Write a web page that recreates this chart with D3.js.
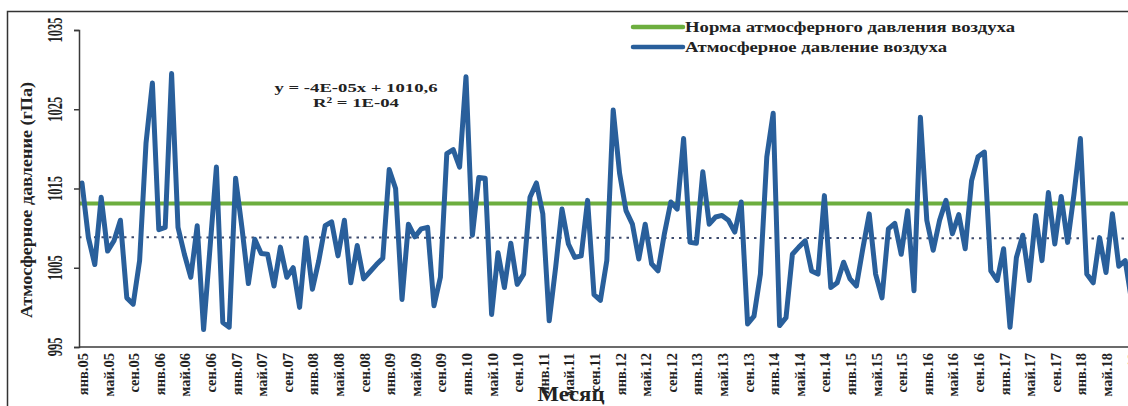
<!DOCTYPE html>
<html><head><meta charset="utf-8">
<script src="https://cdn.jsdelivr.net/npm/d3@7"></script>
<style>body{margin:0;background:#fff}svg{display:block}</style>
</head><body><svg id="c" width="1128" height="406"></svg>
<script>
// Monthly atmospheric pressure, hPa, Jan 2005 onward
const pressure = [
1015.7,1008.8,1005.4,1013.9,1007.1,1008.4,1011.0,1001.2,1000.4,1005.9,1020.7,1028.3,
1009.8,1010.1,1029.5,1010.1,1006.7,1003.8,1010.3,997.2,1007.5,1017.7,998.1,997.5,
1016.3,1010.0,1003.0,1008.6,1006.8,1006.7,1002.7,1007.6,1003.8,1005.0,1000.0,1008.8,
1002.3,1005.9,1010.3,1010.8,1006.5,1011.0,1003.1,1007.8,1003.6,1004.5,1005.4,1006.2,
1017.4,1015.0,1001.0,1010.5,1008.9,1009.9,1010.1,1000.2,1003.8,1019.4,1019.9,1017.7,
1029.1,1009.1,1016.4,1016.3,999.1,1006.9,1002.5,1008.1,1002.9,1004.2,1013.9,1015.7,
1011.8,998.3,1005.0,1012.4,1008.0,1006.3,1006.5,1013.5,1001.6,1000.9,1005.9,1024.9,
1016.9,1012.2,1010.5,1006.1,1010.5,1005.5,1004.6,1009.3,1013.3,1012.4,1021.3,1008.2,
1008.1,1017.1,1010.5,1011.4,1011.6,1011.0,1009.5,1013.3,997.9,998.9,1004.2,1019.0,
1024.5,997.7,998.7,1006.7,1007.6,1008.4,1004.6,1004.2,1014.1,1002.5,1003.1,1005.7,
1003.6,1002.7,1007.4,1011.8,1004.2,1001.2,1009.9,1010.6,1006.7,1012.2,1002.1,1024.0,
1011.0,1007.2,1011.0,1013.5,1009.3,1011.7,1007.4,1016.0,1019.0,1019.6,1004.6,1003.4,
1007.4,997.5,1006.3,1009.1,1003.4,1011.6,1005.9,1014.5,1008.0,1014.0,1008.2,1014.3,
1021.3,1004.2,1003.1,1008.8,1004.4,1011.8,1005.2,1005.9,1000.8
];
const tickLabels = [
"янв.05","май.05","сен.05","янв.06","май.06","сен.06","янв.07","май.07","сен.07",
"янв.08","май.08","сен.08","янв.09","май.09","сен.09","янв.10","май.10","сен.10",
"янв.11","май.11","сен.11","янв.12","май.12","сен.12","янв.13","май.13","сен.13",
"янв.14","май.14","сен.14","янв.15","май.15","сен.15","янв.16","май.16","сен.16",
"янв.17","май.17","сен.17","янв.18","май.18","сен.18"
];
const tickStep = 4;
const normValue = 1013.1;
const trendValues = [1008.85, 1008.7];
const yTicks = [995, 1005, 1015, 1025, 1035];
const legendLabels = ["Норма атмосферного давления воздуха", "Атмосферное давление воздуха"];
const equationLines = ["y = -4E-05x + 1010,6", "R² = 1E-04"];
const yTitle = "Атмосферное давление (гПа)";
const xTitle = "Месяц";

const BLUE = "#295f9b", GREEN = "#6dae3f", TREND = "#3d4b6e", AXIS = "#3a3a3a";
const FONT = "'Liberation Serif','Times New Roman',serif";

const svg = d3.select("#c");
const x = d3.scaleLinear().domain([0, 163]).range([82, 82 + 6.4 * 163]);
const y = d3.scaleLinear().domain([995, 1035]).range([347, 30]);
const W = 1128;

// frame
svg.append("rect").attr("x", 7.5).attr("y", 11.5).attr("width", 1300).attr("height", 600)
  .attr("fill", "#fff").attr("stroke", "#333").attr("stroke-width", 1.5);

// norm line
svg.append("line").attr("x1", 79).attr("x2", W).attr("y1", y(normValue)).attr("y2", y(normValue))
  .attr("stroke", GREEN).attr("stroke-width", 4);

// trend line
svg.append("line").attr("x1", 79).attr("x2", W)
  .attr("y1", y(trendValues[0])).attr("y2", y(trendValues[1]))
  .attr("stroke", TREND).attr("stroke-width", 2).attr("stroke-dasharray", "2.5,5");

// series
svg.append("path").datum(pressure)
  .attr("fill", "none").attr("stroke", BLUE).attr("stroke-width", 5)
  .attr("stroke-linejoin", "round").attr("stroke-linecap", "round")
  .attr("d", d3.line().x((d, i) => x(i)).y(d => y(d)));

// axes
const yAxis = svg.append("g").attr("transform", "translate(79,0)")
  .call(d3.axisLeft(y).tickValues(yTicks).tickSize(5).tickFormat(""));
yAxis.select(".domain").attr("stroke", AXIS).attr("stroke-width", 1.5);
yAxis.selectAll(".tick line").attr("stroke", AXIS).attr("stroke-width", 1.5);

const xAxis = svg.append("g").attr("transform", "translate(0,347)")
  .call(d3.axisBottom(x).tickValues([]).tickSize(0).tickSizeOuter(0));
xAxis.select(".domain").attr("stroke", AXIS).attr("stroke-width", 1.5).attr("d", `M79,0H${W}`);

// y tick labels (rotated, condensed)
svg.selectAll("text.yt").data(yTicks).enter().append("text").attr("class", "yt")
  .attr("transform", d => `translate(62,${y(d)}) rotate(-90) scale(1,1.7)`)
  .attr("text-anchor", "middle").attr("font-family", FONT).attr("font-weight", "bold")
  .attr("font-size", 12.5).attr("fill", "#222").text(d => d);

// x tick labels
svg.selectAll("text.xt").data(tickLabels).enter().append("text").attr("class", "xt")
  .attr("transform", (d, i) => `translate(${x(i * tickStep) + 6},353) rotate(-90)`)
  .attr("text-anchor", "end").attr("font-family", FONT).attr("font-weight", "bold")
  .attr("font-size", 14.5).attr("fill", "#222").text(d => d);

// axis titles
svg.append("text").attr("transform", "translate(32,200) rotate(-90)")
  .attr("text-anchor", "middle").attr("font-family", FONT).attr("font-weight", "bold")
  .attr("font-size", 17).attr("textLength", 236).attr("lengthAdjust", "spacingAndGlyphs")
  .attr("fill", "#222").text(yTitle);
svg.append("text").attr("x", 571).attr("y", 401)
  .attr("text-anchor", "middle").attr("font-family", FONT).attr("font-weight", "bold")
  .attr("font-size", 20).attr("textLength", 67).attr("lengthAdjust", "spacingAndGlyphs")
  .attr("fill", "#222").text(xTitle);

// equation
const eqW = [163, 86];
svg.selectAll("text.eq").data(equationLines).enter().append("text").attr("class", "eq")
  .attr("x", 356).attr("y", (d, i) => 92 + i * 15)
  .attr("text-anchor", "middle").attr("font-family", FONT).attr("font-weight", "bold")
  .attr("font-size", 13.5).attr("textLength", (d, i) => eqW[i]).attr("lengthAdjust", "spacingAndGlyphs")
  .attr("fill", "#222").text(d => d);

// legend
const legColors = [GREEN, BLUE];
const legW = [330, 262];
const leg = svg.selectAll("g.leg").data(legendLabels).enter().append("g").attr("class", "leg")
  .attr("transform", (d, i) => `translate(633,${27 + i * 20})`);
leg.append("line").attr("x1", 0).attr("x2", 50).attr("y1", 0).attr("y2", 0)
  .attr("stroke", (d, i) => legColors[i]).attr("stroke-width", 4.5).attr("stroke-linecap", "round");
leg.append("text").attr("x", 52).attr("y", 5).attr("font-family", FONT).attr("font-weight", "bold")
  .attr("font-size", 15).attr("textLength", (d, i) => legW[i]).attr("lengthAdjust", "spacingAndGlyphs")
  .attr("fill", "#222").text(d => d);
</script></body></html>
